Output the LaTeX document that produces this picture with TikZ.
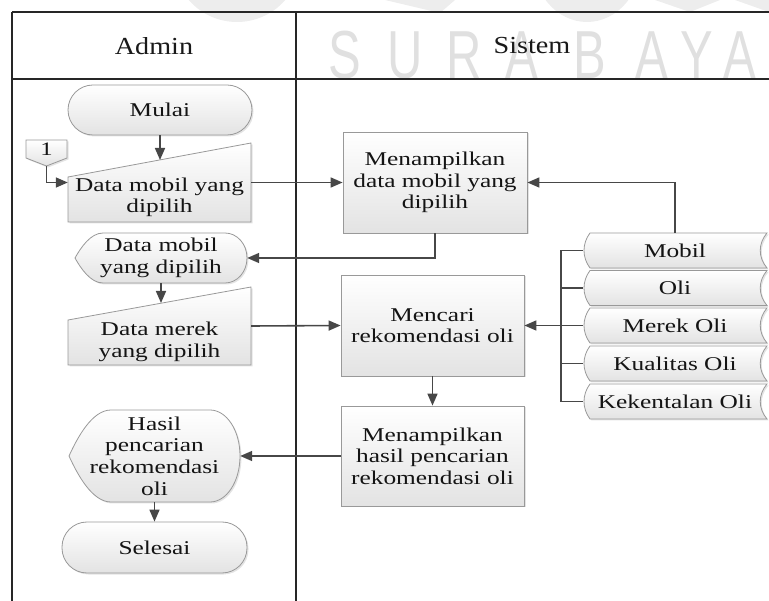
\documentclass[tikz,border=0pt]{standalone}
\usepackage{fontspec}
\setmainfont[FakeStretch=1.3]{Liberation Serif}
\newfontfamily\headfont[FakeStretch=1.15]{Liberation Serif}
\newfontfamily\wmfont[FakeStretch=0.72]{Liberation Sans}
\usetikzlibrary{arrows.meta,shadows,calc}

% manual input outline: x0, top-right y, x1, bottom y, drop of the top-left corner
\newcommand\maninpath[5]{%
  \path[shade box] (#1,#4) -- (#3,#4) -- (#3,#2) -- (#1,{#2+#5}) -- cycle;}
% display outline: x0, y0, x1, y1, left point depth, right arc depth
\newcommand\disppath[6]{%
  \path[shade box] (#1,{(#2+#4)/2})
    .. controls ({#1+0.2*#5},{#2+0.3*(#4-#2)}) and ({#1+0.55*#5},#2) .. ({#1+#5},#2)
    -- ({#3-#6},#2)
    .. controls ({#3-0.45*#6},#2) and (#3,{#2+0.22*(#4-#2)}) .. (#3,{(#2+#4)/2})
    .. controls (#3,{#4-0.22*(#4-#2)}) and ({#3-0.45*#6},#4) .. ({#3-#6},#4)
    -- ({#1+#5},#4)
    .. controls ({#1+0.55*#5},#4) and ({#1+0.2*#5},{#4-0.3*(#4-#2)}) .. cycle;}
% stored data outline: top y, bottom y
\newcommand\storedpath[2]{%
  \path[shade box] (590,#1) -- (767,#1)
    .. controls (758,{#1+0.3*(#2-#1)}) and (758,{#2-0.3*(#2-#1)}) .. (767,#2)
    -- (590,#2)
    .. controls (582,{#2-0.3*(#2-#1)}) and (582,{#1+0.3*(#2-#1)}) .. cycle;}

\begin{document}
\begin{tikzpicture}[x=1pt,y=-1pt,
  lane/.style={line width=1.4pt, draw=black!85},
  link/.style={line width=1.6pt, draw=black!72},
  arr/.style={link, -{Triangle[length=12pt,width=10pt]}},
  shade box/.style={top color=white, bottom color=black!11, draw=black!40, line width=0.8pt,
    drop shadow={opacity=0.22, shadow xshift=1.5pt, shadow yshift=-1.5pt}},
  txt/.style={font=\fontsize{19.5}{21.6}\selectfont, align=center, inner sep=0pt, text=black!92},
  proc/.style={shade box, txt, rectangle, minimum width=184pt, minimum height=101pt},
  term/.style={shade box, txt, rectangle, rounded corners=25pt, minimum width=184pt, minimum height=50pt},
  holder/.style={txt, rectangle, draw=none},
  headtxt/.style={font=\headfont\fontsize{24.5}{28}\selectfont, inner sep=0pt, text=black!90},
  wm/.style={font=\wmfont\fontsize{68}{70}\selectfont, text=black!12, inner sep=0pt},
  wmshape/.style={fill=black!7, draw=none},
]
\useasboundingbox (0,0) rectangle (769,601);

% faint emblem and lettering behind the lanes
\fill[wmshape] (237,-42) ellipse [x radius=64, y radius=64];
\fill[wmshape] (385,0) -- (455,0) -- (440,13) -- cycle;
\fill[wmshape] (587,-42) ellipse [x radius=55, y radius=64];
\fill[wmshape] (655,0) -- (720,0) -- (690,12) -- cycle;
\fill[wmshape] (735,0) -- (769,0) -- (769,12) -- cycle;
\foreach \ch/\xx [count=\i] in {S/345,U/405,R/464,A/522,B/590,A/652,Y/697,A/740}
  \node[wm] (wm\i) at (\xx,55) {\ch};

% swimlanes
\draw[lane] (12,12) -- (769,12);
\draw[lane] (12,79) -- (769,79);
\draw[lane] (12,12) -- (12,601);
\draw[lane] (296,12) -- (296,601);
\node[headtxt] (hadmin) at (154,46) {Admin};
\node[headtxt] (hsistem) at (532,46) {Sistem};

% Admin lane
\node[term] (mulai) at (160,110) {Mulai};

\maninpath{68}{143}{251}{222}{34}
\node[holder, minimum width=183pt, minimum height=79pt] (in1) at (159.5,182.5) {};
\node[txt] (in1t) at (159.5,197.5) {Data mobil yang\\dipilih};
\coordinate (in1top) at (160,160);

\path[shade box] (26,140) -- (67,140) -- (67,158) -- (46.5,166) -- (26,158) -- cycle;
\node[holder, minimum width=41pt, minimum height=26pt] (off1) at (46.5,153) {};
\node[txt, font=\fontsize{19}{20}\selectfont] (off1t) at (46.5,149.5) {1};

\disppath{75}{233}{247}{283}{28}{22}
\node[holder, minimum width=172pt, minimum height=50pt] (d1) at (161,258) {Data mobil\\yang dipilih};

\maninpath{68}{287}{251}{365}{33}
\node[holder, minimum width=183pt, minimum height=78pt] (in2) at (159.5,326) {};
\node[txt] (in2t) at (159.5,342) {Data merek\\yang dipilih};
\coordinate (in2top) at (161,303);

\disppath{69}{410}{240}{502}{42}{30}
\node[holder, minimum width=171pt, minimum height=92pt] (d2) at (154.5,456) {Hasil\\pencarian\\rekomendasi\\oli};

\node[term, minimum width=185pt, minimum height=51pt] (selesai) at (154.5,547.5) {Selesai};

% Sistem lane
\node[proc] (p1) at (435,182.5) {Menampilkan\\data mobil yang\\dipilih};
\node[proc, minimum width=183pt] (p2) at (432.5,325.5) {Mencari\\rekomendasi oli};
\node[proc, minimum width=183pt, minimum height=100pt] (p3) at (432.5,456) {Menampilkan\\hasil pencarian\\rekomendasi oli};

% data stores
\storedpath{233}{268}
\storedpath{270.5}{305.5}
\storedpath{308}{343}
\storedpath{346}{381}
\storedpath{384}{419}
\node[holder, minimum width=184pt, minimum height=35pt] (db1) at (675,250.5) {Mobil};
\node[holder, minimum width=184pt, minimum height=35pt] (db2) at (675,288) {Oli};
\node[holder, minimum width=184pt, minimum height=35pt] (db3) at (675,325.5) {Merek Oli};
\node[holder, minimum width=184pt, minimum height=35pt] (db4) at (675,363.5) {Kualitas Oli};
\node[holder, minimum width=184pt, minimum height=35pt] (db5) at (675,401.5) {Kekentalan Oli};
\coordinate (bus) at (561,325.5);

% connectors
\draw[arr] (mulai.south) -- (in1top);
\draw[arr] (off1.south) |- (in1.west);
\draw[arr] (in1.east) -- (p1.west);
\draw[arr] (db1.north) |- (p1.east);
\draw[arr] (p1.south) |- (d1.east);
\draw[arr] (d1.south) -- (d1.south |- in2top);
\draw[arr] (in2.east) -- (p2.west);
\draw[link] (db1.west) -- (db1.west -| bus) -- (db5.west -| bus) -- (db5.west);
\draw[link] (db2.west) -- (db2.west -| bus);
\draw[link] (db3.west) -- (db3.west -| bus);
\draw[link] (db4.west) -- (db4.west -| bus);
\draw[arr] (bus) -- (p2.east);
\draw[arr] (p2.south) -- (p3.north);
\draw[arr] (p3.west) -- (d2.east);
\draw[arr] (d2.south) -- (selesai.north);
\end{tikzpicture}
\end{document}
